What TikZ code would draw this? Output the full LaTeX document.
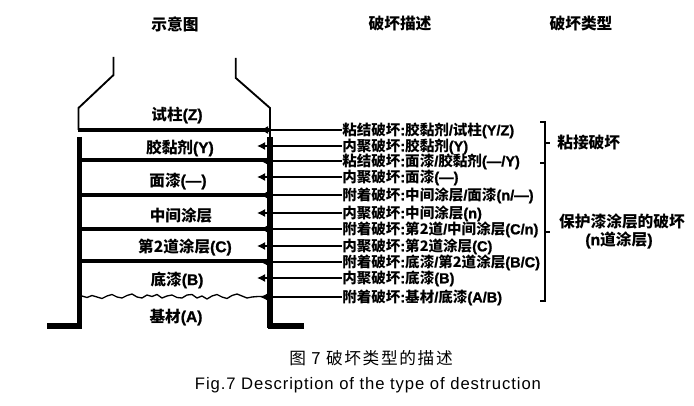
\documentclass[tikz,border=0pt]{standalone}
\usepackage{fontspec}
\setmainfont{Liberation Sans}[BoldFont={Liberation Sans Bold},BoldFeatures={FakeBold=1.2}]
\newfontfamily\cjk{Noto Sans CJK SC}
\newfontfamily\cjkspaced{Noto Sans CJK SC}[LetterSpace=10]
\newfontfamily\latspaced{Liberation Sans}[LetterSpace=5.5]
\newcommand{\zh}[1]{{\cjk #1}}
\usetikzlibrary{arrows.meta}
\tikzset{
  px/.style={x=0.75pt,y=-0.75pt},
  wall/.style={line width=3.8pt,line cap=butt,black},
  layer/.style={line width=2.3pt,black},
  neck/.style={line width=1.4pt,black,line join=miter},
  lead/.style={line width=1.1pt,-{Latex[length=6pt,width=6pt]},black},
  lab/.style={anchor=west,inner sep=0pt,font=\fontsize{10.9pt}{12pt}\selectfont\bfseries,text height=8.8pt,text depth=0.8pt},
  mat/.style={inner sep=0pt,font=\fontsize{11.7pt}{13pt}\selectfont\bfseries},
  head/.style={inner sep=0pt,font=\fontsize{11.8pt}{13pt}\selectfont\bfseries},
  captext/.style={inner sep=0pt,font=\fontsize{12.5pt}{14pt}\selectfont},
  brace/.style={line width=1.5pt,black,line join=miter},
}
\begin{document}
\begin{tikzpicture}[px]
\useasboundingbox (0,0) rectangle (694,406);
% headers
\node[head] (h1) at (175,24) {\zh{示意图}};
\node[head] (h2) at (400,24) {\zh{破坏描述}};
\node[head] (h3) at (581,24) {\zh{破坏类型}};
% specimen outline
\draw[neck] (113.5,57) -- (113.5,75) -- (78.5,108) -- (78.5,130);
\draw[neck] (235.8,58) -- (235.8,78) -- (270,108) -- (270,137);
\draw[wall] (79.5,137) -- (79.5,328.5) ;
\draw[wall] (270,137) -- (270,328.5);
\draw[wall] (47,326) -- (82,326);
\draw[wall] (268,326) -- (304,326);
\draw[layer] (78,130) -- (270,130);
\draw[layer] (80,160) -- (270,160);
\draw[layer] (80,195) -- (270,195);
\draw[layer] (80,229) -- (270,229);
\draw[layer] (80,261) -- (270,261);
\draw[line width=1pt,black,line join=round] (82,296) -- (87,297.5) -- (92,295.5) -- (97,297) -- (102,298.5) -- (107,296) -- (112,294.5) -- (117,297) -- (122,298) -- (127,295.5) -- (132,294) -- (137,297) -- (142,298) -- (147,295) -- (152,296.5) -- (157,294.5) -- (162,298) -- (167,296) -- (172,295) -- (177,297.5) -- (182,298) -- (187,295) -- (192,294.5) -- (197,298) -- (202,296) -- (207,299) -- (212,296) -- (217,294.5) -- (222,297) -- (227,298.5) -- (232,295.5) -- (237,294) -- (242,296) -- (247,298) -- (252,297) -- (258,296.5) -- (268,296.5);
% material labels
\node[mat] (m1) at (177,115) {\zh{试柱}(Z)};
\node[mat] (m2) at (180,148) {\zh{胶黏剂}(Y)};
\node[mat] (m3) at (178,181) {\zh{面漆}(—)};
\node[mat] (m4) at (181,216) {\zh{中间涂层}};
\node[mat] (m5) at (185,247) {\zh{第2道涂层}(C)};
\node[mat] (m6) at (177,280) {\zh{底漆}(B)};
\node[mat] (m7) at (176,317) {\zh{基材}(A)};
% failure labels
\node[lab] (l1) at (342,130) {\zh{粘结破坏}:\zh{胶黏剂}/\zh{试柱}(Y/Z)};
\node[lab] (l2) at (342,146) {\zh{内聚破坏}:\zh{胶黏剂}(Y)};
\node[lab] (l3) at (342,161) {\zh{粘结破坏}:\zh{面漆}/\zh{胶黏剂}(—/Y)};
\node[lab] (l4) at (342,177) {\zh{内聚破坏}:\zh{面漆}(—)};
\node[lab] (l5) at (342,195) {\zh{附着破坏}:\zh{中间涂层}/\zh{面漆}(n/—)};
\node[lab] (l6) at (342,213) {\zh{内聚破坏}:\zh{中间涂层}(n)};
\node[lab] (l7) at (342,229) {\zh{附着破坏}:\zh{第2道}/\zh{中间涂层}(C/n)};
\node[lab] (l8) at (342,246) {\zh{内聚破坏}:\zh{第2道涂层}(C)};
\node[lab] (l9) at (342,262) {\zh{附着破坏}:\zh{底漆}/\zh{第2道涂层}(B/C)};
\node[lab] (l10) at (342,278) {\zh{内聚破坏}:\zh{底漆}(B)};
\node[lab] (l11) at (342,297) {\zh{附着破坏}:\zh{基材}/\zh{底漆}(A/B)};
\coordinate (tipa) at (260,0);
\coordinate (tipb) at (257,0);
\foreach \n in {l1,l3,l5,l7,l9,l11} \draw[lead] (\n.west) -- (\n.west -| tipa);
\foreach \n in {l2,l4,l6,l8,l10} \draw[lead] (\n.west) -- (\n.west -| tipb);
% brackets
\draw[brace] (540,122) -- (545,122) -- (545,301) -- (540,301);
\draw[brace] (540,163) -- (545,163);
\draw[brace] (545,143) -- (550,143);
\draw[brace] (545,232) -- (550,232);
\node[head,anchor=west] (t1) at (557,143) {\zh{粘接破坏}};
\node[head] (t2) at (622,221) {\zh{保护漆涂层的破坏}};
\node[head] (t3) at (619,240) {(n\zh{道涂层})};
% captions
\node[captext] (c1) at (371,358) {{\cjkspaced 图 7 破坏类型的描述}};
\node[captext] (c2) at (368,385) {{\latspaced Fig.7 Description of the type of destruction}};
\end{tikzpicture}
\end{document}
